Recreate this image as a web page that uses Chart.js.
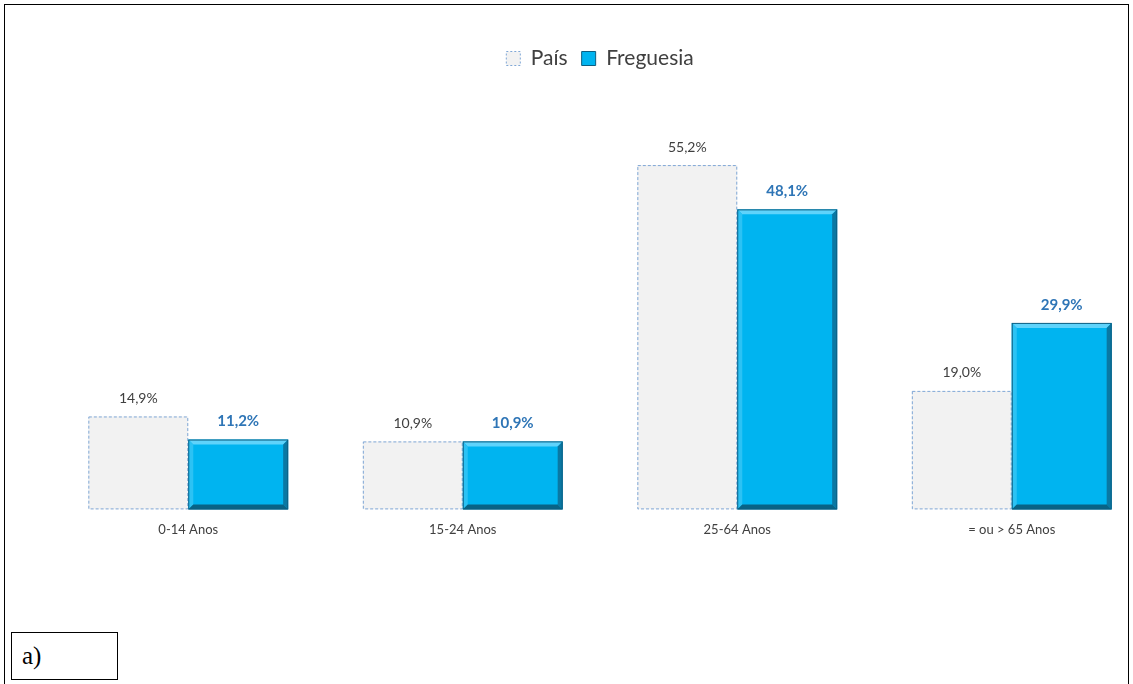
<!DOCTYPE html>
<html>
<head>
<meta charset="utf-8">
<script src="https://cdn.jsdelivr.net/npm/chart.js@4"></script>
<style>
  html, body { margin: 0; padding: 0; background: #fff; overflow: hidden; }
  body { width: 1133px; height: 684px; position: relative; }
  #frame { position: absolute; left: 4px; top: 4px; width: 1125px; height: 690px; border: 1px solid #000; box-sizing: border-box; }
  #wrap { position: absolute; left: 0; top: 0; width: 1195px; height: 551px; }
  #tag { position: absolute; left: 11px; top: 632px; width: 107px; height: 48px; border: 1px solid #000; box-sizing: border-box;
         font-family: "Liberation Serif", serif; font-size: 25px; line-height: 46px; padding-left: 10px; background: #fff; }
</style>
</head>
<body>
<div id="wrap"><canvas id="ageChart"></canvas></div>
<div id="frame"></div>
<div id="tag">a)</div>
<script>
  const categories = ["0-14 Anos", "15-24 Anos", "25-64 Anos", "= ou > 65 Anos"];
  const paisValues = [14.9, 10.9, 55.2, 19.0];
  const freguesiaValues = [11.2, 10.9, 48.1, 29.9];
  const seriesNames = ["País", "Freguesia"];

  const FONT = "Lato, 'Open Sans', sans-serif";

  function fmt(v) {
    return v.toFixed(1).replace(".", ",") + "%";
  }

  // dashed outline for the País bars + bevel on Freguesia + value labels
  const barDecor = {
    id: "barDecor",
    afterDatasetsDraw(chart) {
      const ctx = chart.ctx;
      const pais = chart.getDatasetMeta(0).data;
      const freg = chart.getDatasetMeta(1).data;

      ctx.save();
      pais.forEach(function (bar) {
        const w = bar.width;
        ctx.strokeStyle = "#7fa7d6";
        ctx.lineWidth = 1;
        ctx.setLineDash([3, 2]);
        ctx.strokeRect(bar.x - w / 2 + 0.5, bar.y + 0.5, w - 1, bar.base - bar.y - 1);
      });
      ctx.setLineDash([]);

      freg.forEach(function (bar) {
        const w = bar.width;
        const x0 = bar.x - w / 2, x1 = bar.x + w / 2;
        const y0 = bar.y, y1 = bar.base;
        const b = 5;
        ctx.fillStyle = "#5fd3fb";
        ctx.beginPath();
        ctx.moveTo(x0, y0); ctx.lineTo(x1, y0); ctx.lineTo(x1 - b, y0 + b); ctx.lineTo(x0 + b, y0 + b); ctx.closePath(); ctx.fill();
        ctx.fillStyle = "#2cc2f4";
        ctx.beginPath();
        ctx.moveTo(x0, y0); ctx.lineTo(x0 + b, y0 + b); ctx.lineTo(x0 + b, y1 - b); ctx.lineTo(x0, y1); ctx.closePath(); ctx.fill();
        ctx.fillStyle = "#0a78a3";
        ctx.beginPath();
        ctx.moveTo(x1, y0); ctx.lineTo(x1 - b, y0 + b); ctx.lineTo(x1 - b, y1 - b); ctx.lineTo(x1, y1); ctx.closePath(); ctx.fill();
        ctx.fillStyle = "#086386";
        ctx.beginPath();
        ctx.moveTo(x0, y1); ctx.lineTo(x0 + b, y1 - b); ctx.lineTo(x1 - b, y1 - b); ctx.lineTo(x1, y1); ctx.closePath(); ctx.fill();
        ctx.strokeStyle = "#0d5f82";
        ctx.lineWidth = 1;
        ctx.strokeRect(x0 + 0.5, y0 + 0.5, w - 1, y1 - y0 - 1);
      });

      ctx.textAlign = "center";
      ctx.textBaseline = "middle";
      ctx.font = "14px " + FONT;
      ctx.fillStyle = "#404040";
      pais.forEach(function (bar, i) {
        ctx.fillText(fmt(paisValues[i]), bar.x, bar.y - 18);
      });
      ctx.font = "bold 15px " + FONT;
      ctx.fillStyle = "#2e75b6";
      freg.forEach(function (bar, i) {
        ctx.fillText(fmt(freguesiaValues[i]), bar.x, bar.y - 18);
      });
      ctx.restore();
    }
  };

  new Chart(document.getElementById("ageChart"), {
    type: "bar",
    data: {
      labels: categories,
      datasets: [
        {
          label: seriesNames[0],
          data: paisValues,
          backgroundColor: "#f2f2f2",
          borderWidth: 0,
          categoryPercentage: 0.728,
          barPercentage: 1.0
        },
        {
          label: seriesNames[1],
          data: freguesiaValues,
          backgroundColor: "#00b4f0",
          borderWidth: 0,
          categoryPercentage: 0.728,
          barPercentage: 1.0
        }
      ]
    },
    options: {
      responsive: true,
      maintainAspectRatio: false,
      animation: false,
      layout: { padding: { left: 51, right: 46, top: 34, bottom: 0 } },
      plugins: {
        tooltip: { enabled: false },
        legend: {
          position: "top",
          labels: {
            font: { family: FONT, size: 21 },
            color: "#404040",
            boxWidth: 14,
            boxHeight: 14,
            padding: 14,
            generateLabels: function (chart) {
              return [
                { text: seriesNames[0], fillStyle: "#f2f2f2", strokeStyle: "#7fa7d6", lineWidth: 1, lineDash: [2, 2], datasetIndex: 0, fontColor: "#404040" },
                { text: seriesNames[1], fillStyle: "#00b4f0", strokeStyle: "#0d5f82", lineWidth: 1, datasetIndex: 1, fontColor: "#404040" }
              ];
            }
          }
        }
      },
      scales: {
        x: {
          grid: { display: false, drawTicks: false },
          border: { display: false },
          ticks: { font: { family: FONT, size: 13 }, color: "#404040", padding: 13 }
        },
        y: {
          display: false,
          min: 0,
          max: 69
        }
      }
    },
    plugins: [barDecor]
  });
</script>
</body>
</html>
